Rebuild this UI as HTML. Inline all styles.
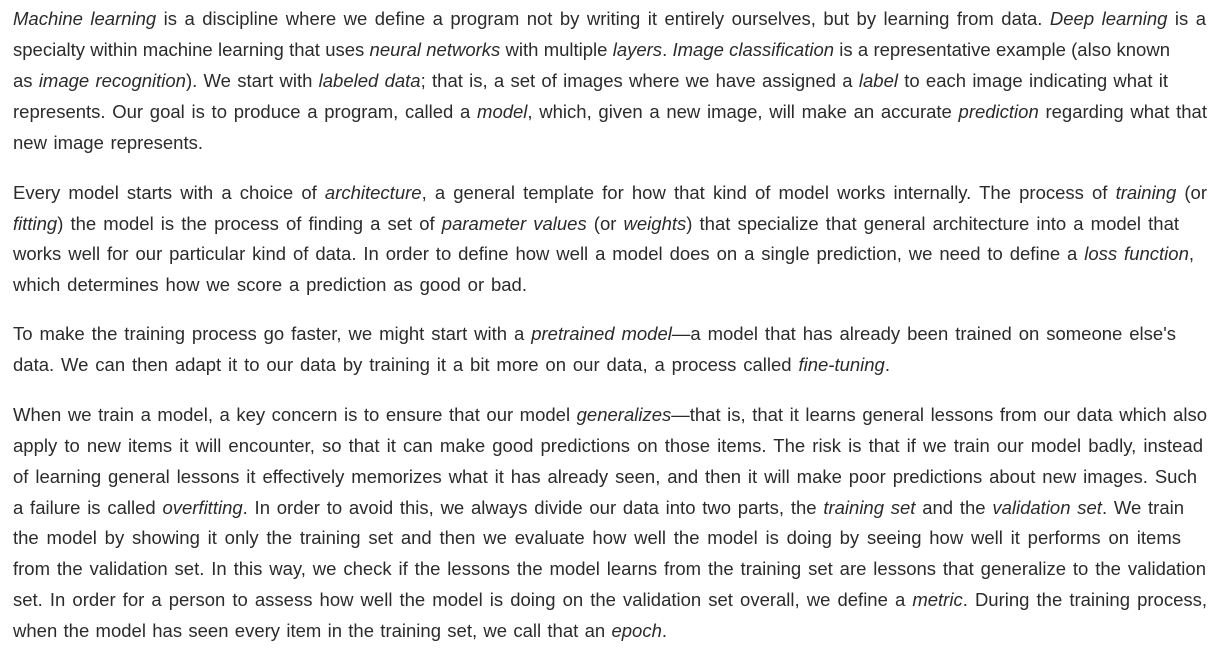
<!DOCTYPE html>
<html><head><meta charset="utf-8"><style>
body{margin:0;background:#fff;width:1222px;height:650px;overflow:hidden;}
.w{position:absolute;left:13px;top:0;font-family:"Liberation Sans","DejaVu Sans",sans-serif;font-size:18.5px;color:#2b2b2b;}
.l{position:absolute;left:0;white-space:nowrap;line-height:20px;text-align:justify;text-align-last:justify;}
</style></head><body><div class="w">
<div class="l" style="top:9px;width:1193px"><i>Machine learning</i> is a discipline where we define a program not by writing it entirely ourselves, but by learning from data. <i>Deep learning</i> is a</div>
<div class="l" style="top:40px;width:1157px">specialty within machine learning that uses <i>neural networks</i> with multiple <i>layers</i>. <i>Image classification</i> is a representative example (also known</div>
<div class="l" style="top:71px;width:1155px">as <i>image recognition</i>). We start with <i>labeled data</i>; that is, a set of images where we have assigned a <i>label</i> to each image indicating what it</div>
<div class="l" style="top:102px;width:1194px">represents. Our goal is to produce a program, called a <i>model</i>, which, given a new image, will make an accurate <i>prediction</i> regarding what that</div>
<div class="l" style="top:133px;width:190px">new image represents.</div>
<div class="l" style="top:183px;width:1194px">Every model starts with a choice of <i>architecture</i>, a general template for how that kind of model works internally. The process of <i>training</i> (or</div>
<div class="l" style="top:214px;width:1166px"><i>fitting</i>) the model is the process of finding a set of <i>parameter values</i> (or <i>weights</i>) that specialize that general architecture into a model that</div>
<div class="l" style="top:244px;width:1181px">works well for our particular kind of data. In order to define how well a model does on a single prediction, we need to define a <i>loss function</i>,</div>
<div class="l" style="top:275px;width:514px">which determines how we score a prediction as good or bad.</div>
<div class="l" style="top:324px;width:1163px">To make the training process go faster, we might start with a <i>pretrained model</i>—a model that has already been trained on someone else's</div>
<div class="l" style="top:355px;width:877px">data. We can then adapt it to our data by training it a bit more on our data, a process called <i>fine-tuning</i>.</div>
<div class="l" style="top:405px;width:1194px">When we train a model, a key concern is to ensure that our model <i>generalizes</i>—that is, that it learns general lessons from our data which also</div>
<div class="l" style="top:436px;width:1190px">apply to new items it will encounter, so that it can make good predictions on those items. The risk is that if we train our model badly, instead</div>
<div class="l" style="top:467px;width:1184px">of learning general lessons it effectively memorizes what it has already seen, and then it will make poor predictions about new images. Such</div>
<div class="l" style="top:498px;width:1171px">a failure is called <i>overfitting</i>. In order to avoid this, we always divide our data into two parts, the <i>training set</i> and the <i>validation set</i>. We train</div>
<div class="l" style="top:528px;width:1168px">the model by showing it only the training set and then we evaluate how well the model is doing by seeing how well it performs on items</div>
<div class="l" style="top:559px;width:1193px">from the validation set. In this way, we check if the lessons the model learns from the training set are lessons that generalize to the validation</div>
<div class="l" style="top:590px;width:1194px">set. In order for a person to assess how well the model is doing on the validation set overall, we define a <i>metric</i>. During the training process,</div>
<div class="l" style="top:621px;width:654px">when the model has seen every item in the training set, we call that an <i>epoch</i>.</div>
</div></body></html>
